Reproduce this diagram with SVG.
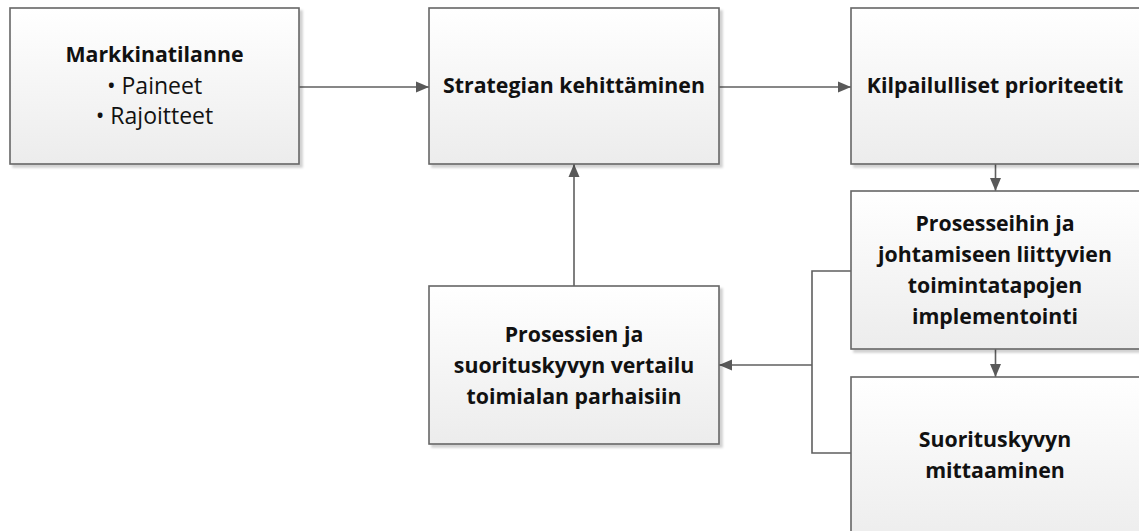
<svg xmlns="http://www.w3.org/2000/svg" width="1139" height="531" viewBox="0 0 1139 531">
  <defs>
    <linearGradient id="boxFill" x1="0" y1="0" x2="0" y2="1">
      <stop offset="0" stop-color="#ffffff"/>
      <stop offset="1" stop-color="#ececec"/>
    </linearGradient>
    <filter id="shadow" x="-5%" y="-5%" width="115%" height="115%">
      <feDropShadow dx="3" dy="3" stdDeviation="1.2" flood-color="#000000" flood-opacity="0.18"/>
    </filter>
    <marker id="arrow" markerUnits="userSpaceOnUse" markerWidth="14" markerHeight="12" viewBox="0 0 14 12" refX="13" refY="6" orient="auto">
      <path d="M0,0.5 L13,6 L0,11.5 Z" fill="#595959"/>
    </marker>
  </defs>
  <style>
    .box { fill: url(#boxFill); stroke: #666666; stroke-width: 1.6; filter: url(#shadow); }
    .conn { fill: none; stroke: #5f5f5f; stroke-width: 1.6; }
    text { font-family: "Open Sans", "Liberation Sans", sans-serif; font-size: 21.3px; fill: #111111; text-anchor: middle; }
    .b { font-weight: bold; }
    .r { font-size: 23px; }
  </style>

  <rect width="1139" height="531" fill="#ffffff"/>

  <g id="connectors">
    <line class="conn" x1="299" y1="87" x2="429" y2="87" marker-end="url(#arrow)"/>
    <line class="conn" x1="719" y1="87" x2="851" y2="87" marker-end="url(#arrow)"/>
    <line class="conn" x1="995.5" y1="164" x2="995.5" y2="191" marker-end="url(#arrow)"/>
    <line class="conn" x1="995.5" y1="349" x2="995.5" y2="377" marker-end="url(#arrow)"/>
    <line class="conn" x1="574" y1="286" x2="574" y2="164" marker-end="url(#arrow)"/>
    <path class="conn" d="M851,271 H812 V453 H851"/>
    <line class="conn" x1="812" y1="365" x2="719" y2="365" marker-end="url(#arrow)"/>
  </g>

  <g id="markkinatilanne">
    <rect class="box" x="10" y="8" width="289" height="156"/>
    <text class="b" x="154.5" y="62">Markkinatilanne</text>
    <text class="r" x="154.5" y="94">• Paineet</text>
    <text class="r" x="154.5" y="124">• Rajoitteet</text>
  </g>

  <g id="strategia">
    <rect class="box" x="429" y="8" width="290" height="156"/>
    <text class="b" x="574" y="93">Strategian kehittäminen</text>
  </g>

  <g id="prioriteetit">
    <rect class="box" x="851" y="8" width="300" height="156"/>
    <text class="b" x="995" y="93">Kilpailulliset prioriteetit</text>
  </g>

  <g id="implementointi">
    <rect class="box" x="851" y="191" width="300" height="158"/>
    <text class="b" x="995" y="231">Prosesseihin ja</text>
    <text class="b" x="995" y="262">johtamiseen liittyvien</text>
    <text class="b" x="995" y="293">toimintatapojen</text>
    <text class="b" x="995" y="324">implementointi</text>
  </g>

  <g id="vertailu">
    <rect class="box" x="429" y="286" width="290" height="158"/>
    <text class="b" x="574" y="342">Prosessien ja</text>
    <text class="b" x="574" y="373">suorituskyvyn vertailu</text>
    <text class="b" x="574" y="404">toimialan parhaisiin</text>
  </g>

  <g id="mittaaminen">
    <rect class="box" x="851" y="377" width="300" height="170"/>
    <text class="b" x="995" y="447">Suorituskyvyn</text>
    <text class="b" x="995" y="478">mittaaminen</text>
  </g>
</svg>
